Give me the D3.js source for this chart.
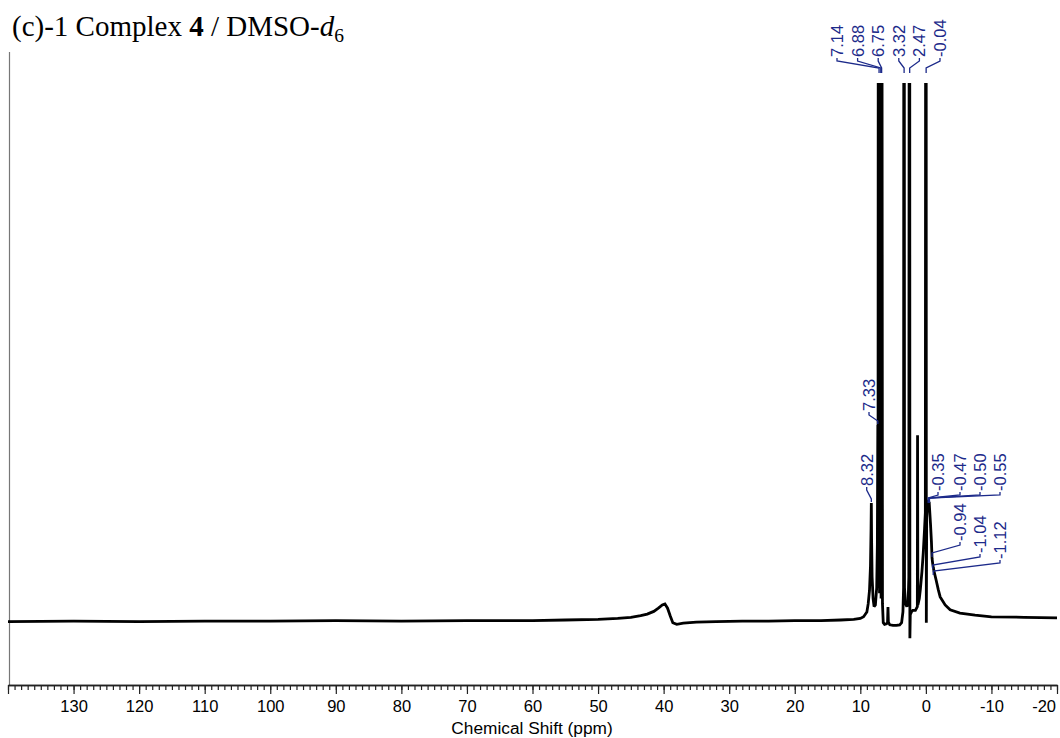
<!DOCTYPE html>
<html><head><meta charset="utf-8">
<script src="https://cdn.jsdelivr.net/npm/d3@7"></script>
<style>body{margin:0;background:#fff}svg{display:block}</style>
</head><body>
<svg id="chart" width="1060" height="738"></svg>
<script>
// ---------- data ----------
const xDomain = [140, -20];
const majorTicks = [140,130,120,110,100,90,80,70,60,50,40,30,20,10,0,-10,-20];
const tickLabels = ["","130","120","110","100","90","80","70","60","50","40","30","20","10","0","-10","-20"];
const minorTicks = d3.range(140, -21, -1);
const axisTitle = "Chemical Shift (ppm)";

// spectrum outline (ppm, relative intensity; 100 = top of the frame)
const spectrumPpm = [140,130,120,110,100,90,80,70,60,55,50,47,45,43.5,42.5,41.5,40.8,40.2,39.8,39.4,39.0,38.6,38.0,37.0,35,32,28,24,20,16,13,11,10,9.5,9.0,8.8,8.6,8.45,8.36,8.32,8.28,8.2,8.05,7.9,7.7,7.5,7.4,7.33,7.30,7.25,7.14,7.07,7.0,6.88,6.83,6.79,6.72,6.62,6.5,6.3,6.0,5.85,5.78,5.72,5.5,5.0,4.5,4.0,3.7,3.5,3.4,3.36,3.30,3.26,3.1,2.9,2.7,2.6,2.53,2.47,2.44,2.38,2.2,2.0,1.6,1.3,1.27,1.22,1.0,0.85,0.6,0.4,0.2,0.08,0.02,-0.04,-0.07,-0.12,-0.22,-0.35,-0.47,-0.50,-0.55,-0.7,-0.85,-0.94,-1.04,-1.12,-1.3,-1.57,-1.9,-2.18,-2.94,-3.7,-5.2,-7.5,-10,-15,-20];
const spectrumInt = [-0.3,-0.2,-0.3,-0.2,-0.2,-0.1,-0.2,-0.1,-0.1,0.0,0.1,0.3,0.5,0.8,1.1,1.6,2.2,2.8,3.0,2.2,0.8,-0.5,-0.8,-0.6,-0.4,-0.3,-0.2,-0.2,-0.1,-0.1,0,0.1,0.3,0.6,1.5,3,5.5,10,17,21.8,15,8,4,2.5,2.8,6,14,36.3,8,160,160,5,160,160,4,160,160,3,-0.5,-0.8,-0.7,-0.5,2.4,-0.4,-0.9,-1.0,-1.0,-0.9,-0.5,1.5,6,160,160,6,3,2.5,3.5,8,160,160,-3.4,1.0,1.5,1.8,1.8,2.5,34.4,2.8,4,5.6,9,12.5,17,20,160,160,-0.5,19,21.5,22.3,21.8,22,21,18,14.5,11.5,10.5,9.8,8.8,7.4,5.6,4.3,2.8,1.9,1.3,0.9,0.6,0.5,0.4];

// peak labels
const topLabels = ["7.14","6.88","6.75","3.32","2.47","-0.04"];
const topPeaks = [7.14, 6.88, 6.75, 3.32, 2.47, -0.04];
const midLabels = ["8.32","7.33"];
const midPeaks = [8.32, 7.33];
const midHeights = [21.8, 36.3];
const upperLabels = ["-0.35","-0.47","-0.50","-0.55"];
const upperPeaks = [-0.35, -0.47, -0.50, -0.55];
const lowerLabels = ["-0.94","-1.04","-1.12"];
const lowerPeaks = [-0.94, -1.04, -1.12];

// ---------- drawing ----------
const svg = d3.select("#chart");
const W = 1060, H = 738;
const x = d3.scaleLinear().domain(xDomain).range([8, 1057]);
const y = d3.scaleLinear().domain([0, 100]).range([620, 83]);
const axisY = 685;
const labelColor = "#1c2a8a";

svg.append("rect").attr("width", W).attr("height", H).attr("fill", "#fff");

// title
const title = svg.append("text").attr("x", 12).attr("y", 36)
  .attr("font-family", "'Liberation Serif','Times New Roman',serif")
  .attr("font-size", 29).attr("fill", "#000");
title.append("tspan").text("(c)-1 Complex ");
title.append("tspan").attr("font-weight", "bold").text("4");
title.append("tspan").text(" / DMSO-");
title.append("tspan").attr("font-style", "italic").text("d");
title.append("tspan").attr("font-size", 19.5).attr("dy", 6).text("6");

// left vertical line
svg.append("line").attr("x1", 9.5).attr("x2", 9.5).attr("y1", 52).attr("y2", axisY)
  .attr("stroke", "#777").attr("stroke-width", 1.2);

// spectrum
svg.append("clipPath").attr("id", "clip").append("rect")
  .attr("x", 8).attr("y", 83).attr("width", 1050).attr("height", 600);
const pts = spectrumPpm.map((p, i) => [p, spectrumInt[i]]);
const line = d3.line().x(d => x(d[0])).y(d => y(d[1]));
svg.append("path").attr("d", line(pts)).attr("clip-path", "url(#clip)")
  .attr("fill", "none").attr("stroke", "#000").attr("stroke-width", 2.8)
  .attr("stroke-linejoin", "miter").attr("stroke-miterlimit", 2);

// axis
const minorAxis = d3.axisBottom(x).tickValues(minorTicks).tickSize(5).tickSizeOuter(0).tickFormat("");
const majorAxis = d3.axisBottom(x).tickValues(majorTicks).tickSize(9).tickSizeOuter(0)
  .tickFormat((d, i) => tickLabels[i]);
const gMinor = svg.append("g").attr("transform", `translate(0,${axisY})`).call(minorAxis);
const gMajor = svg.append("g").attr("transform", `translate(0,${axisY})`).call(majorAxis);
[gMinor, gMajor].forEach(g => {
  g.select(".domain").attr("stroke", "#222").attr("stroke-width", 1.3);
  g.selectAll(".tick line").attr("stroke", "#222").attr("stroke-width", 1.2);
});
gMajor.selectAll(".tick text")
  .attr("y", 27).attr("dy", null)
  .attr("font-family", "Arial, 'Liberation Sans', sans-serif")
  .attr("font-size", 16.5).attr("fill", "#000")
  .each(function() {
    const t = d3.select(this);
    const b = this.getBBox();
    const tx = +this.parentNode.getAttribute("transform").match(/translate\(([-\d.]+)/)[1];
    if (tx + b.width / 2 > 1057) t.attr("text-anchor", "end").attr("x", 1057 - tx - 1);
  });
svg.append("text").attr("x", 532).attr("y", 734).attr("text-anchor", "middle")
  .attr("font-family", "Arial, 'Liberation Sans', sans-serif").attr("font-size", 17.3)
  .attr("fill", "#000").text(axisTitle);

// peak labels
const fontSize = 16.5;
function drawLabel(text, lx, yb, px, ytop, yend) {
  svg.append("text")
    .attr("transform", `translate(${lx + 6},${yb}) rotate(-90)`)
    .attr("font-family", "Arial, 'Liberation Sans', sans-serif")
    .attr("font-size", fontSize).attr("fill", labelColor).text(text);
  svg.append("path")
    .attr("d", d3.line()([[lx, yb + 1], [lx, yb + 4], [px, ytop], [px, yend]]))
    .attr("fill", "none").attr("stroke", labelColor).attr("stroke-width", 1.3);
}
topLabels.forEach((t, i) => drawLabel(t, 837 + i * 20.6, 57, x(topPeaks[i]), 68, 73));
midLabels.forEach((t, i) => {
  const yb = [486, 411][i];
  const lx = [866.7, 869][i];
  drawLabel(t, lx, yb, x(midPeaks[i]), y(midHeights[i]) - 4, y(midHeights[i]) - 1);
});
upperLabels.forEach((t, i) => drawLabel(t, 938 + [0, 22, 42, 62][i], 491, x(upperPeaks[i]), 498, 503));
lowerLabels.forEach((t, i) => {
  const yb = [541, 553, 559][i];
  drawLabel(t, 960 + i * 20, yb, x(lowerPeaks[i]), yb + 12, yb + 16);
});
</script>
</body></html>
